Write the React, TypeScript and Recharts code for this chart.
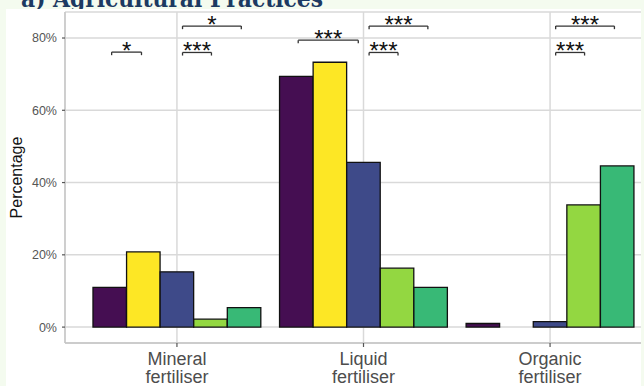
import {
  ComposedChart,
  Bar,
  Cell,
  XAxis,
  YAxis,
  CartesianGrid,
  ReferenceLine,
  ReferenceDot,
} from "recharts";

const categories = ["Mineral fertiliser", "Liquid fertiliser", "Organic fertiliser"];

// five farm groups, % of respondents per practice
const group1 = [11.0, 69.4, 1.0];
const group2 = [20.8, 73.3, 0];
const group3 = [15.3, 45.6, 1.5];
const group4 = [2.2, 16.3, 33.8];
const group5 = [5.4, 11.0, 44.6];

const seriesValues = [group1, group2, group3, group4, group5];
const seriesColors = ["#450e52", "#fde725", "#3e4a89", "#93d741", "#38b976"];

const yTicks = [0, 20, 40, 60, 80];

// significance brackets, x in category units (0 = centre of first group)
const bracketFrom = [-0.35, 0.03, 0.03, 0.65, 1.03, 1.03, 2.03, 2.03];
const bracketTo = [-0.19, 0.185, 0.345, 0.972, 1.185, 1.345, 2.185, 2.345];
const bracketY = [76.1, 76.0, 83.3, 79.4, 76.0, 83.3, 76.0, 83.3];
const bracketLabels = ["*", "***", "*", "***", "***", "***", "***", "***"];

// dodge: 5 bars filling 90% of each category slot
const DODGE = 0.9;
const nSeries = seriesValues.length;
const slot = DODGE / nSeries;

const chartData = categories.flatMap((_, i) =>
  seriesValues.map((vals, j) => ({
    x: i - DODGE / 2 + slot * (j + 0.5),
    value: vals[i],
    color: seriesColors[j],
  }))
);

const brackets = bracketFrom.map((x1, i) => ({
  x1,
  x2: bracketTo[i],
  y: bracketY[i],
  label: bracketLabels[i],
}));

const FONT = "'Liberation Sans', Arial, sans-serif";
const TIP = 0.85;

const CategoryTick = ({ x, y, payload }: any) => {
  const name = categories[Math.round(payload.value)] ?? "";
  const lines = name.split(" ");
  return (
    <text x={x} y={y} textAnchor="middle" fill="#4d4d4d" fontSize={18} fontFamily={FONT}>
      {lines.map((l, i) => (
        <tspan key={i} x={x} dy={i === 0 ? 15.5 : 18.5}>
          {l}
        </tspan>
      ))}
    </text>
  );
};

const YTitle = ({ viewBox }: any) => {
  const cx = (viewBox?.x ?? 0) + 16;
  const cy = (viewBox?.y ?? 0) + (viewBox?.height ?? 0) / 2;
  return (
    <text
      x={cx}
      y={cy}
      transform={`rotate(-90 ${cx} ${cy})`}
      textAnchor="middle"
      dominantBaseline="central"
      fontSize={16}
      fill="#111"
      fontFamily={FONT}
    >
      Percentage
    </text>
  );
};

export default function App() {
  return (
    <div
      style={{
        position: "absolute",
        left: 0,
        top: 0,
        width: 644,
        height: 386,
        overflow: "hidden",
        background: "#f4fbef",
        fontFamily: FONT,
      }}
    >
      <svg width={644} height={9} style={{ position: "absolute", left: 0, top: 0 }}>
        <text
          x={21}
          y={7}
          textLength={302}
          lengthAdjust="spacingAndGlyphs"
          fontFamily="'DejaVu Serif', serif"
          fontWeight="bold"
          fontSize={24}
          fill="#1c3a62"
        >
          a) Agricultural Practices
        </text>
      </svg>
      <div
        style={{
          position: "absolute",
          left: 6,
          top: 9,
          width: 635,
          height: 377,
          overflow: "hidden",
          background: "#ffffff",
        }}
      >
        <div style={{ position: "absolute", left: -6, top: -9 }}>
          <ComposedChart
            width={680}
            height={386}
            data={chartData}
            margin={{ top: 12, right: 18, bottom: 0, left: 0 }}
            barCategoryGap={0}
            barGap={0}
          >
            <CartesianGrid stroke="#d9d9d9" strokeWidth={1.5} />
            <XAxis
              dataKey="x"
              type="number"
              domain={[-0.6, 2.6]}
              ticks={categories.map((_, i) => i)}
              allowDataOverflow
              height={43}
              tick={<CategoryTick />}
              tickSize={4}
              tickMargin={2}
              interval={0}
              axisLine={{ stroke: "#c4c4c4", strokeWidth: 1.3 }}
              tickLine={{ stroke: "#555", strokeWidth: 1.2 }}
            />
            <YAxis
              type="number"
              domain={[-4.4, 87.2]}
              ticks={yTicks}
              allowDataOverflow
              width={65}
              tickSize={3}
              tickMargin={5}
              tickFormatter={(v: number) => `${v}%`}
              tick={{ fill: "#555", fontSize: 12.5 }}
              axisLine={{ stroke: "#c4c4c4", strokeWidth: 1.3 }}
              tickLine={{ stroke: "#555", strokeWidth: 1.2 }}
              label={<YTitle />}
            />
            {/* barSize must stay just under the data spacing, else recharts shrinks to 90% */}
            <Bar dataKey="value" barSize={33.5} stroke="#111" strokeWidth={1.3} isAnimationActive={false}>
              {chartData.map((d, i) => (
                <Cell key={i} fill={d.color} />
              ))}
            </Bar>
            {brackets.map((b, i) => (
              <ReferenceLine
                key={`bl${i}`}
                segment={[
                  { x: b.x1, y: b.y - TIP },
                  { x: b.x1, y: b.y },
                ]}
                stroke="#333"
                strokeWidth={1.3}
              />
            ))}
            {brackets.map((b, i) => (
              <ReferenceLine
                key={`bm${i}`}
                segment={[
                  { x: b.x1, y: b.y },
                  { x: b.x2, y: b.y },
                ]}
                stroke="#333"
                strokeWidth={1.3}
              />
            ))}
            {brackets.map((b, i) => (
              <ReferenceLine
                key={`br${i}`}
                segment={[
                  { x: b.x2, y: b.y },
                  { x: b.x2, y: b.y - TIP },
                ]}
                stroke="#333"
                strokeWidth={1.3}
              />
            ))}
            {brackets.map((b, i) => (
              <ReferenceDot
                key={`bt${i}`}
                x={(b.x1 + b.x2) / 2}
                y={b.y}
                shape={(p: any) => (
                  <text
                    x={p.cx}
                    y={p.cy + 7}
                    textAnchor="middle"
                    fontSize={24}
                    fill="#111"
                    fontFamily={FONT}
                  >
                    {b.label}
                  </text>
                )}
              />
            ))}
          </ComposedChart>
        </div>
      </div>
    </div>
  );
}
